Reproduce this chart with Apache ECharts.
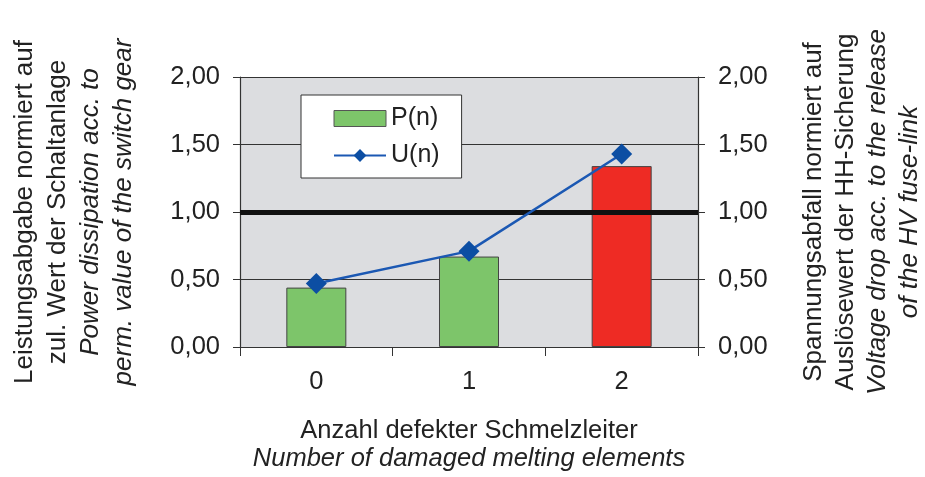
<!DOCTYPE html>
<html>
<head>
<meta charset="utf-8">
<script src="https://cdn.jsdelivr.net/npm/echarts@6/dist/echarts.min.js"></script>
<style>
html, body { margin: 0; padding: 0; background: #fff; }
#chart { width: 925px; height: 477px; }
</style>
</head>
<body>
<div id="chart"></div>
<script>
var categories = ['0', '1', '2'];
var powerValues = [0.44, 0.67, 1.34];     // P(n), Balken
var voltageValues = [0.47, 0.71, 1.43];   // U(n), Linie
var limitValue = 1.00;
var yTicks = [0, 0.5, 1, 1.5, 2];

var FONT = '"Liberation Sans", Arial, sans-serif';
var GREEN = '#7dc56a';
var RED = '#ee2b24';
var BLUE = '#0c4ea3';

function fmt(v) {
    return v.toFixed(2).replace('.', ',');
}

// Balken über dem Grenzwert rot
var barData = powerValues.map(function (v) {
    return v > limitValue ? { value: v, itemStyle: { color: RED } } : v;
});

var chart = echarts.init(document.getElementById('chart'));

var yAxisBase = {
    type: 'value',
    min: yTicks[0],
    max: yTicks[yTicks.length - 1],
    interval: 0.5,
    nameLocation: 'middle',
    nameRotate: 90,
    axisLine: { show: true, lineStyle: { color: '#333', width: 1.2 } },
    axisTick: { show: true, length: 7, lineStyle: { color: '#333' } },
    axisLabel: {
        margin: 20,
        fontSize: 25.5,
        fontFamily: FONT,
        color: '#222',
        formatter: fmt
    }
};

var option = {
    animation: false,
    textStyle: { fontFamily: FONT },
    grid: {
        left: 240,
        right: 227,
        top: 77,
        bottom: 124,
        show: true,
        backgroundColor: '#dcdde0',
        borderWidth: 0
    },
    legend: {
        orient: 'vertical',
        left: 301,
        top: 95,
        padding: [11, 22, 10, 32],
        itemGap: 12,
        itemWidth: 52,
        itemHeight: 16,
        backgroundColor: '#fff',
        borderColor: '#333',
        borderWidth: 1,
        textStyle: { fontSize: 25, color: '#222', fontFamily: FONT },
        data: [
            { name: 'P(n)', icon: 'rect', itemStyle: { color: GREEN, borderColor: '#555', borderWidth: 1 } },
            { name: 'U(n)' }
        ]
    },
    xAxis: {
        type: 'category',
        data: categories,
        name: '{n|Anzahl defekter Schmelzleiter}\n{i|Number of damaged melting elements}',
        nameLocation: 'middle',
        nameGap: 70,
        nameTextStyle: {
            rich: {
                n: { fontSize: 25.5, lineHeight: 28, color: '#222', fontFamily: FONT },
                i: { fontSize: 25.5, lineHeight: 28, color: '#222', fontStyle: 'italic', fontFamily: FONT }
            }
        },
        axisLine: { show: true, lineStyle: { color: '#333', width: 1.2 } },
        axisTick: { show: true, length: 9, lineStyle: { color: '#333' } },
        axisLabel: { margin: 22, fontSize: 25.5, color: '#222', fontFamily: FONT },
        splitLine: { show: false }
    },
    yAxis: [
        Object.assign({}, yAxisBase, {
            position: 'left',
            nameGap: 100,
            name: '{n|Leistungsabgabe normiert auf}\n{n|zul. Wert der Schaltanlage}\n{i|Power dissipation acc. to}\n{i|perm. value of the switch gear}',
            nameTextStyle: {
                rich: {
                    n: { fontSize: 26, lineHeight: 33, color: '#222', fontFamily: FONT },
                    i: { fontSize: 26, lineHeight: 33, color: '#222', fontStyle: 'italic', fontFamily: FONT }
                }
            },
            splitLine: { show: true, lineStyle: { color: '#333', width: 1 } }
        }),
        Object.assign({}, yAxisBase, {
            position: 'right',
            nameGap: 100,
            name: '{n|Spannungsabfall normiert auf}\n{n|Auslösewert der HH-Sicherung}\n{i|Voltage drop acc. to the release}\n{i|of the HV fuse-link}',
            nameTextStyle: {
                rich: {
                    n: { fontSize: 26, lineHeight: 32, color: '#222', fontFamily: FONT },
                    i: { fontSize: 26, lineHeight: 32, color: '#222', fontStyle: 'italic', fontFamily: FONT }
                }
            },
            splitLine: { show: false }
        })
    ],
    series: [
        {
            name: 'P(n)',
            type: 'bar',
            barWidth: 60,
            data: barData,
            itemStyle: { color: GREEN, borderColor: '#444', borderWidth: 1 },
            markLine: {
                silent: true,
                symbol: 'none',
                label: { show: false },
                lineStyle: { color: '#111', width: 5, type: 'solid' },
                data: [{ yAxis: limitValue }]
            }
        },
        {
            name: 'U(n)',
            type: 'line',
            yAxisIndex: 1,
            data: voltageValues,
            symbol: 'diamond',
            symbolSize: 21,
            itemStyle: { color: BLUE },
            lineStyle: { color: '#1b58b3', width: 2.5 },
            z: 5
        }
    ]
};

chart.setOption(option);
window.onresize = function () {
    chart.resize();
};
</script>
</body>
</html>
